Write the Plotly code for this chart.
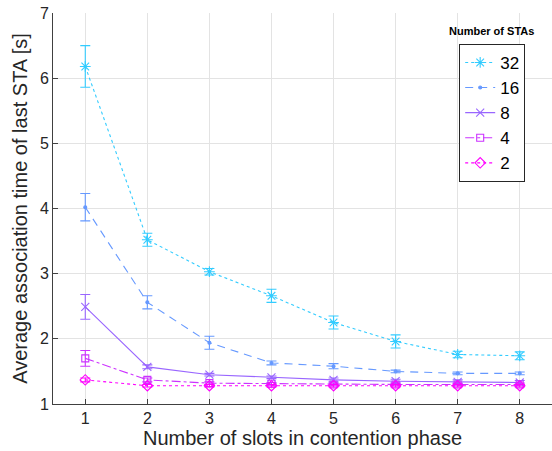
import plotly.graph_objects as go

# Number of slots in the contention phase
slots = [1, 2, 3, 4, 5, 6, 7, 8]

# Average association time of the last STA [s] and its error margin, per STA count
t32 = [6.18, 3.52, 3.03, 2.66, 2.25, 1.96, 1.76, 1.74]
e32 = [0.32, 0.10, 0.05, 0.10, 0.10, 0.10, 0.05, 0.06]
t16 = [4.02, 2.56, 1.94, 1.63, 1.58, 1.50, 1.47, 1.47]
e16 = [0.21, 0.10, 0.10, 0.03, 0.04, 0.02, 0.02, 0.02]
t8 = [2.49, 1.57, 1.45, 1.41, 1.37, 1.35, 1.34, 1.33]
e8 = [0.19, 0.03, 0.02, 0.02, 0.03, 0.03, 0.03, 0.03]
t4 = [1.70, 1.37, 1.32, 1.31, 1.30, 1.30, 1.30, 1.30]
e4 = [0.12, 0.03, 0.02, 0.02, 0.02, 0.02, 0.02, 0.02]
t2 = [1.37, 1.28, 1.28, 1.28, 1.28, 1.28, 1.28, 1.28]
e2 = [0.03, 0.02, 0.02, 0.02, 0.02, 0.02, 0.02, 0.02]

labels = ["32", "16", "8", "4", "2"]
series = [t32, t16, t8, t4, t2]
errors = [e32, e16, e8, e4, e2]

colors = ["#33ccff", "#6699ff", "#9966ff", "#cc33ff", "#ff00ff"]
dashes = ["dot", "8px,6px", "solid", "dashdot", "dot"]
symbols = ["asterisk-open", "circle", "x-thin-open", "square-open", "diamond-open"]
sizes = [9, 3, 8, 7, 8]

FONT = "Liberation Sans, Arial, Helvetica, sans-serif"

fig = go.Figure()
for lab, y, err, c, d, s, sz in zip(labels, series, errors, colors, dashes, symbols, sizes):
    fig.add_trace(go.Scatter(
        x=slots, y=y, name=lab, mode="lines+markers",
        line=dict(color=c, width=1.1, dash=d),
        marker=dict(symbol=s, size=sz, color=c, line=dict(color=c, width=1.1)),
        error_y=dict(type="data", array=err, visible=True, color=c, thickness=1.1, width=5),
    ))

axis_common = dict(
    showline=True, linecolor="#404040", linewidth=1,
    ticks="inside", ticklen=5, tickcolor="#404040", tickwidth=1,
    showgrid=True, gridcolor="#e3e3e3", gridwidth=1,
    zeroline=False, mirror=False,
    tickfont=dict(family=FONT, size=16, color="#262626"),
)

fig.update_xaxes(
    range=[0.48, 8.52], tickmode="array", tickvals=slots,
    title=dict(text="Number of slots in contention phase",
               font=dict(family=FONT, size=20, color="#262626"), standoff=2),
    **axis_common,
)
fig.update_yaxes(
    range=[1, 7], dtick=1,
    title=dict(text="Average association time of last STA [s]",
               font=dict(family=FONT, size=20, color="#262626"), standoff=6),
    **axis_common,
)

fig.add_annotation(
    text="<b>Number of STAs</b>", xref="paper", yref="paper",
    x=0.878, y=0.954, xanchor="center", yanchor="middle", showarrow=False,
    font=dict(family=FONT, size=11, color="#000000"),
)

fig.update_layout(
    width=552, height=451,
    margin=dict(l=53, r=0, t=13, b=47),
    plot_bgcolor="white", paper_bgcolor="white",
    showlegend=True,
    legend=dict(
        x=0.814, y=0.921, xanchor="left", yanchor="top",
        bgcolor="white", bordercolor="#262626", borderwidth=1,
        font=dict(family=FONT, size=17, color="#000000"),
        tracegroupgap=0, itemwidth=30,
    ),
)

fig.write_html("out.html")
